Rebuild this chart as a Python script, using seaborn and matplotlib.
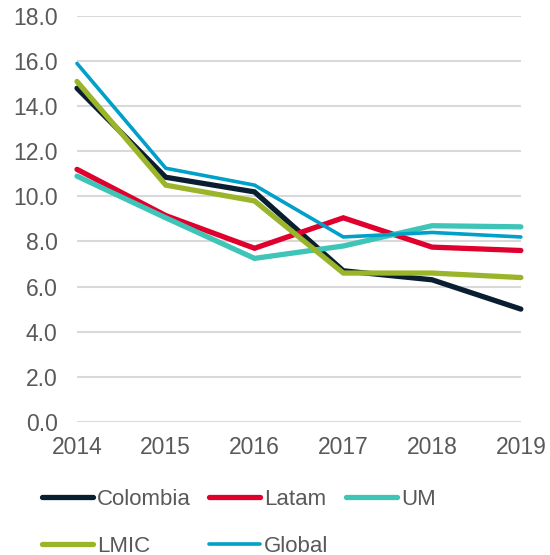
import matplotlib
matplotlib.use("Agg")
import matplotlib.pyplot as plt
import seaborn as sns
import pandas as pd
from matplotlib.ticker import FormatStrFormatter

years = [2014, 2015, 2016, 2017, 2018, 2019]
colombia = [14.8, 10.85, 10.2, 6.7, 6.3, 5.0]
latam = [11.2, 9.15, 7.7, 9.05, 7.75, 7.6]
um = [10.9, 9.05, 7.25, 7.8, 8.7, 8.65]
lmic = [15.1, 10.5, 9.8, 6.6, 6.6, 6.4]
global_ = [15.9, 11.25, 10.5, 8.2, 8.4, 8.2]

series_names = ["Colombia", "Latam", "UM", "LMIC", "Global"]
series_values = [colombia, latam, um, lmic, global_]
colors = ["#0a1e32", "#e0002d", "#3fc4b8", "#9bb52a", "#00a0c8"]
widths = [3.8, 3.8, 3.8, 3.8, 2.6]

rows = []
for name, vals in zip(series_names, series_values):
    for y, v in zip(years, vals):
        rows.append({"year": y, "value": v, "series": name})
df = pd.DataFrame(rows)

sns.set_style("white")
plt.rcParams["font.family"] = ["Liberation Sans", "DejaVu Sans"]

fig = plt.figure(figsize=(5.5, 5.55), dpi=100)
ax = fig.add_axes([0.14, 0.24, 0.807, 0.731])

for name, col, lw in zip(series_names, colors, widths):
    sub = df[df["series"] == name]
    sns.lineplot(data=sub, x="year", y="value", ax=ax, color=col, linewidth=lw,
                 label=name, solid_capstyle="round", solid_joinstyle="miter", clip_on=False)

ax.set_xlim(2014, 2019)
ax.set_ylim(0, 18)
ax.set_yticks([0, 2, 4, 6, 8, 10, 12, 14, 16, 18])
ax.yaxis.set_major_formatter(FormatStrFormatter("%.1f"))
ax.set_xticks(years)
ax.set_xticklabels([str(y) for y in years])
ax.set_xlabel("")
ax.set_ylabel("")
ax.grid(axis="y", color="#d9d9d9", linewidth=1.5)
ax.grid(axis="x", visible=False)
ax.set_axisbelow(True)
for s in ax.spines.values():
    s.set_visible(False)
ax.tick_params(axis="both", length=0, labelsize=16.5, colors="#595959")
ax.tick_params(axis="x", pad=10)
ax.tick_params(axis="y", pad=14)

handles, labels = ax.get_legend_handles_labels()
ax.get_legend().remove()
hmap = dict(zip(labels, handles))
order = ["Colombia", "LMIC", "Latam", "Global", "UM"]
leg = fig.legend([hmap[k] for k in order], order, loc="upper left",
                 bbox_to_anchor=(0.076, 0.119),
                 ncol=3, frameon=False, fontsize=16, handlelength=2.3,
                 handletextpad=0.18, columnspacing=0.8, labelspacing=1.15,
                 borderaxespad=0, borderpad=0)
for t in leg.get_texts():
    t.set_color("#595959")

fig.savefig("out.png", dpi=100)
